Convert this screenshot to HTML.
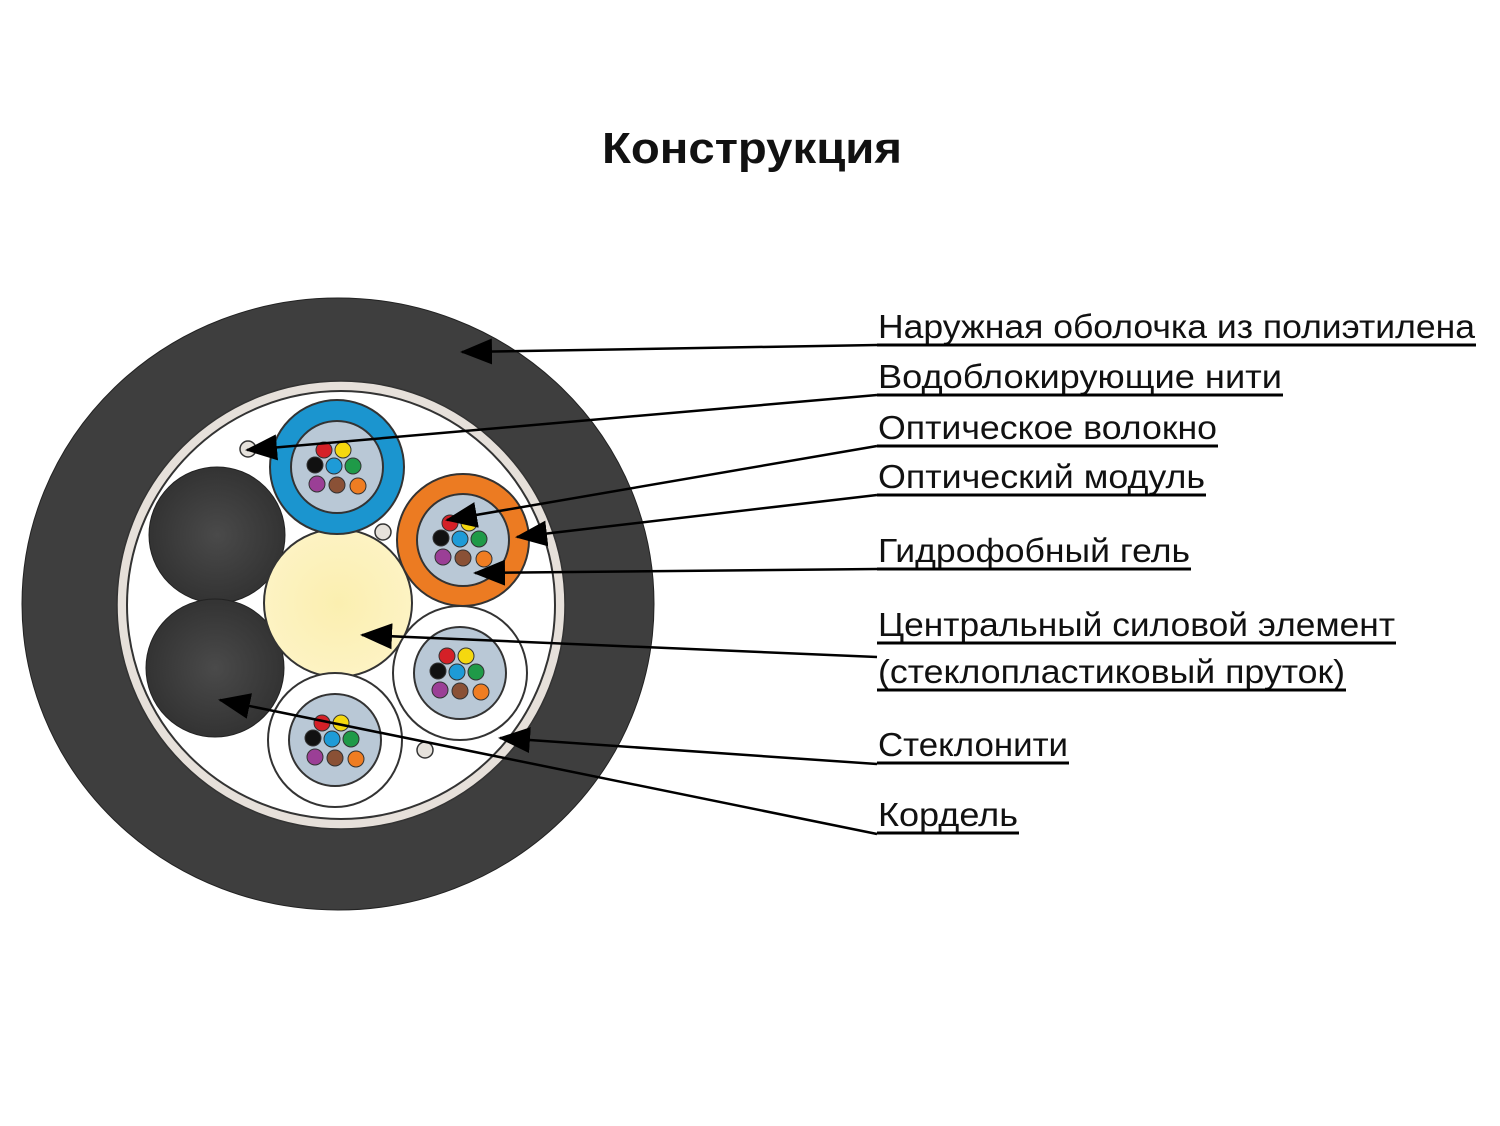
<!DOCTYPE html>
<html><head><meta charset="utf-8"><style>
html,body{margin:0;padding:0;background:#fff;}
svg{display:block;}
text{font-family:"Liberation Sans",sans-serif;fill:#111;}
</style></head><body>
<svg width="1500" height="1126" viewBox="0 0 1500 1126" xmlns="http://www.w3.org/2000/svg">
<defs>
<radialGradient id="cord" cx="50%" cy="50%" r="50%"><stop offset="0" stop-color="#4a4a4a"/><stop offset="1" stop-color="#333"/></radialGradient>
<radialGradient id="gel" cx="50%" cy="50%" r="50%"><stop offset="0" stop-color="#fbefb0"/><stop offset="1" stop-color="#fdf3c3"/></radialGradient>
<g id="fib">
<circle cx="-13" cy="-17" r="8" fill="#d42027" stroke="#333" stroke-width="1"/>
<circle cx="6" cy="-17" r="8" fill="#f5d80f" stroke="#333" stroke-width="1"/>
<circle cx="-22" cy="-2" r="8" fill="#111" stroke="#333" stroke-width="1"/>
<circle cx="-3" cy="-1" r="8" fill="#1e9bd7" stroke="#333" stroke-width="1"/>
<circle cx="16" cy="-1" r="8" fill="#1f9a48" stroke="#333" stroke-width="1"/>
<circle cx="-20" cy="17" r="8" fill="#9b3f96" stroke="#333" stroke-width="1"/>
<circle cx="0" cy="18" r="8" fill="#8a5136" stroke="#333" stroke-width="1"/>
<circle cx="21" cy="19" r="8" fill="#ef7d22" stroke="#333" stroke-width="1"/>
</g>
<marker id="ah" markerWidth="32" markerHeight="26" refX="30" refY="13" orient="auto" markerUnits="userSpaceOnUse"><path d="M0,0 L32,13 L0,26 Z" fill="#000"/></marker>
</defs>

<text x="602" y="163" font-size="44" font-weight="bold" textLength="300" lengthAdjust="spacingAndGlyphs">Конструкция</text>

<ellipse cx="338" cy="604" rx="316" ry="306" fill="#3e3e3e" stroke="#222" stroke-width="1"/>
<circle cx="341" cy="605" r="224" fill="#e6e0da" stroke="#333" stroke-width="1.5"/>
<circle cx="341" cy="605" r="214" fill="#fff" stroke="#333" stroke-width="2"/>

<circle cx="217" cy="535" r="68" fill="url(#cord)" stroke="#222" stroke-width="1"/>
<circle cx="215" cy="668" r="69" fill="url(#cord)" stroke="#222" stroke-width="1"/>

<circle cx="338" cy="603" r="74" fill="url(#gel)" stroke="#333" stroke-width="2"/>

<circle cx="337" cy="467" r="67" fill="#1b95cf" stroke="#333" stroke-width="2"/>
<circle cx="337" cy="467" r="46" fill="#b9c8d6" stroke="#333" stroke-width="2"/>
<use href="#fib" x="337" y="467"/>
<circle cx="463" cy="540" r="66" fill="#ec7b22" stroke="#333" stroke-width="2"/>
<circle cx="463" cy="540" r="46" fill="#b9c8d6" stroke="#333" stroke-width="2"/>
<use href="#fib" x="463" y="540"/>
<circle cx="460" cy="673" r="67" fill="#fff" stroke="#333" stroke-width="2"/>
<circle cx="460" cy="673" r="46" fill="#b9c8d6" stroke="#333" stroke-width="2"/>
<use href="#fib" x="460" y="673"/>
<circle cx="335" cy="740" r="67" fill="#fff" stroke="#333" stroke-width="2"/>
<circle cx="335" cy="740" r="46" fill="#b9c8d6" stroke="#333" stroke-width="2"/>
<use href="#fib" x="335" y="740"/>

<circle cx="248" cy="449" r="8" fill="#e6e2dc" stroke="#333" stroke-width="1.5"/>
<circle cx="383" cy="532" r="8" fill="#e6e2dc" stroke="#333" stroke-width="1.5"/>
<circle cx="425" cy="750" r="8" fill="#e6e2dc" stroke="#333" stroke-width="1.5"/>

<g stroke="#000" stroke-width="2.5" fill="none">
<line x1="877" y1="345" x2="462" y2="352" marker-end="url(#ah)"/>
<line x1="877" y1="395" x2="247" y2="450" marker-end="url(#ah)"/>
<line x1="877" y1="446" x2="447" y2="520" marker-end="url(#ah)"/>
<line x1="877" y1="495" x2="517" y2="537" marker-end="url(#ah)"/>
<line x1="877" y1="569" x2="475" y2="573" marker-end="url(#ah)"/>
<line x1="877" y1="657" x2="362" y2="635" marker-end="url(#ah)"/>
<line x1="877" y1="764" x2="500" y2="738" marker-end="url(#ah)"/>
<line x1="877" y1="834" x2="220" y2="700" marker-end="url(#ah)"/>
</g>

<g font-size="33">
<text x="878" y="338" textLength="597" lengthAdjust="spacingAndGlyphs">Наружная оболочка из полиэтилена</text>
<text x="878" y="388" textLength="404" lengthAdjust="spacingAndGlyphs">Водоблокирующие нити</text>
<text x="878" y="439" textLength="339" lengthAdjust="spacingAndGlyphs">Оптическое волокно</text>
<text x="878" y="488" textLength="327" lengthAdjust="spacingAndGlyphs">Оптический модуль</text>
<text x="878" y="562" textLength="312" lengthAdjust="spacingAndGlyphs">Гидрофобный гель</text>
<text x="878" y="636" textLength="517" lengthAdjust="spacingAndGlyphs">Центральный силовой элемент</text>
<text x="878" y="683" textLength="467" lengthAdjust="spacingAndGlyphs">(стеклопластиковый пруток)</text>
<text x="878" y="756" textLength="190" lengthAdjust="spacingAndGlyphs">Стеклонити</text>
<text x="878" y="826" textLength="140" lengthAdjust="spacingAndGlyphs">Кордель</text>
</g>
<g stroke="#000" stroke-width="3">
<line x1="877" y1="345" x2="1476" y2="345"/>
<line x1="877" y1="395" x2="1283" y2="395"/>
<line x1="877" y1="446" x2="1218" y2="446"/>
<line x1="877" y1="495" x2="1206" y2="495"/>
<line x1="877" y1="569" x2="1191" y2="569"/>
<line x1="877" y1="643" x2="1396" y2="643"/>
<line x1="877" y1="690" x2="1346" y2="690"/>
<line x1="877" y1="763" x2="1069" y2="763"/>
<line x1="877" y1="833" x2="1019" y2="833"/>
</g>
</svg>
</body></html>
